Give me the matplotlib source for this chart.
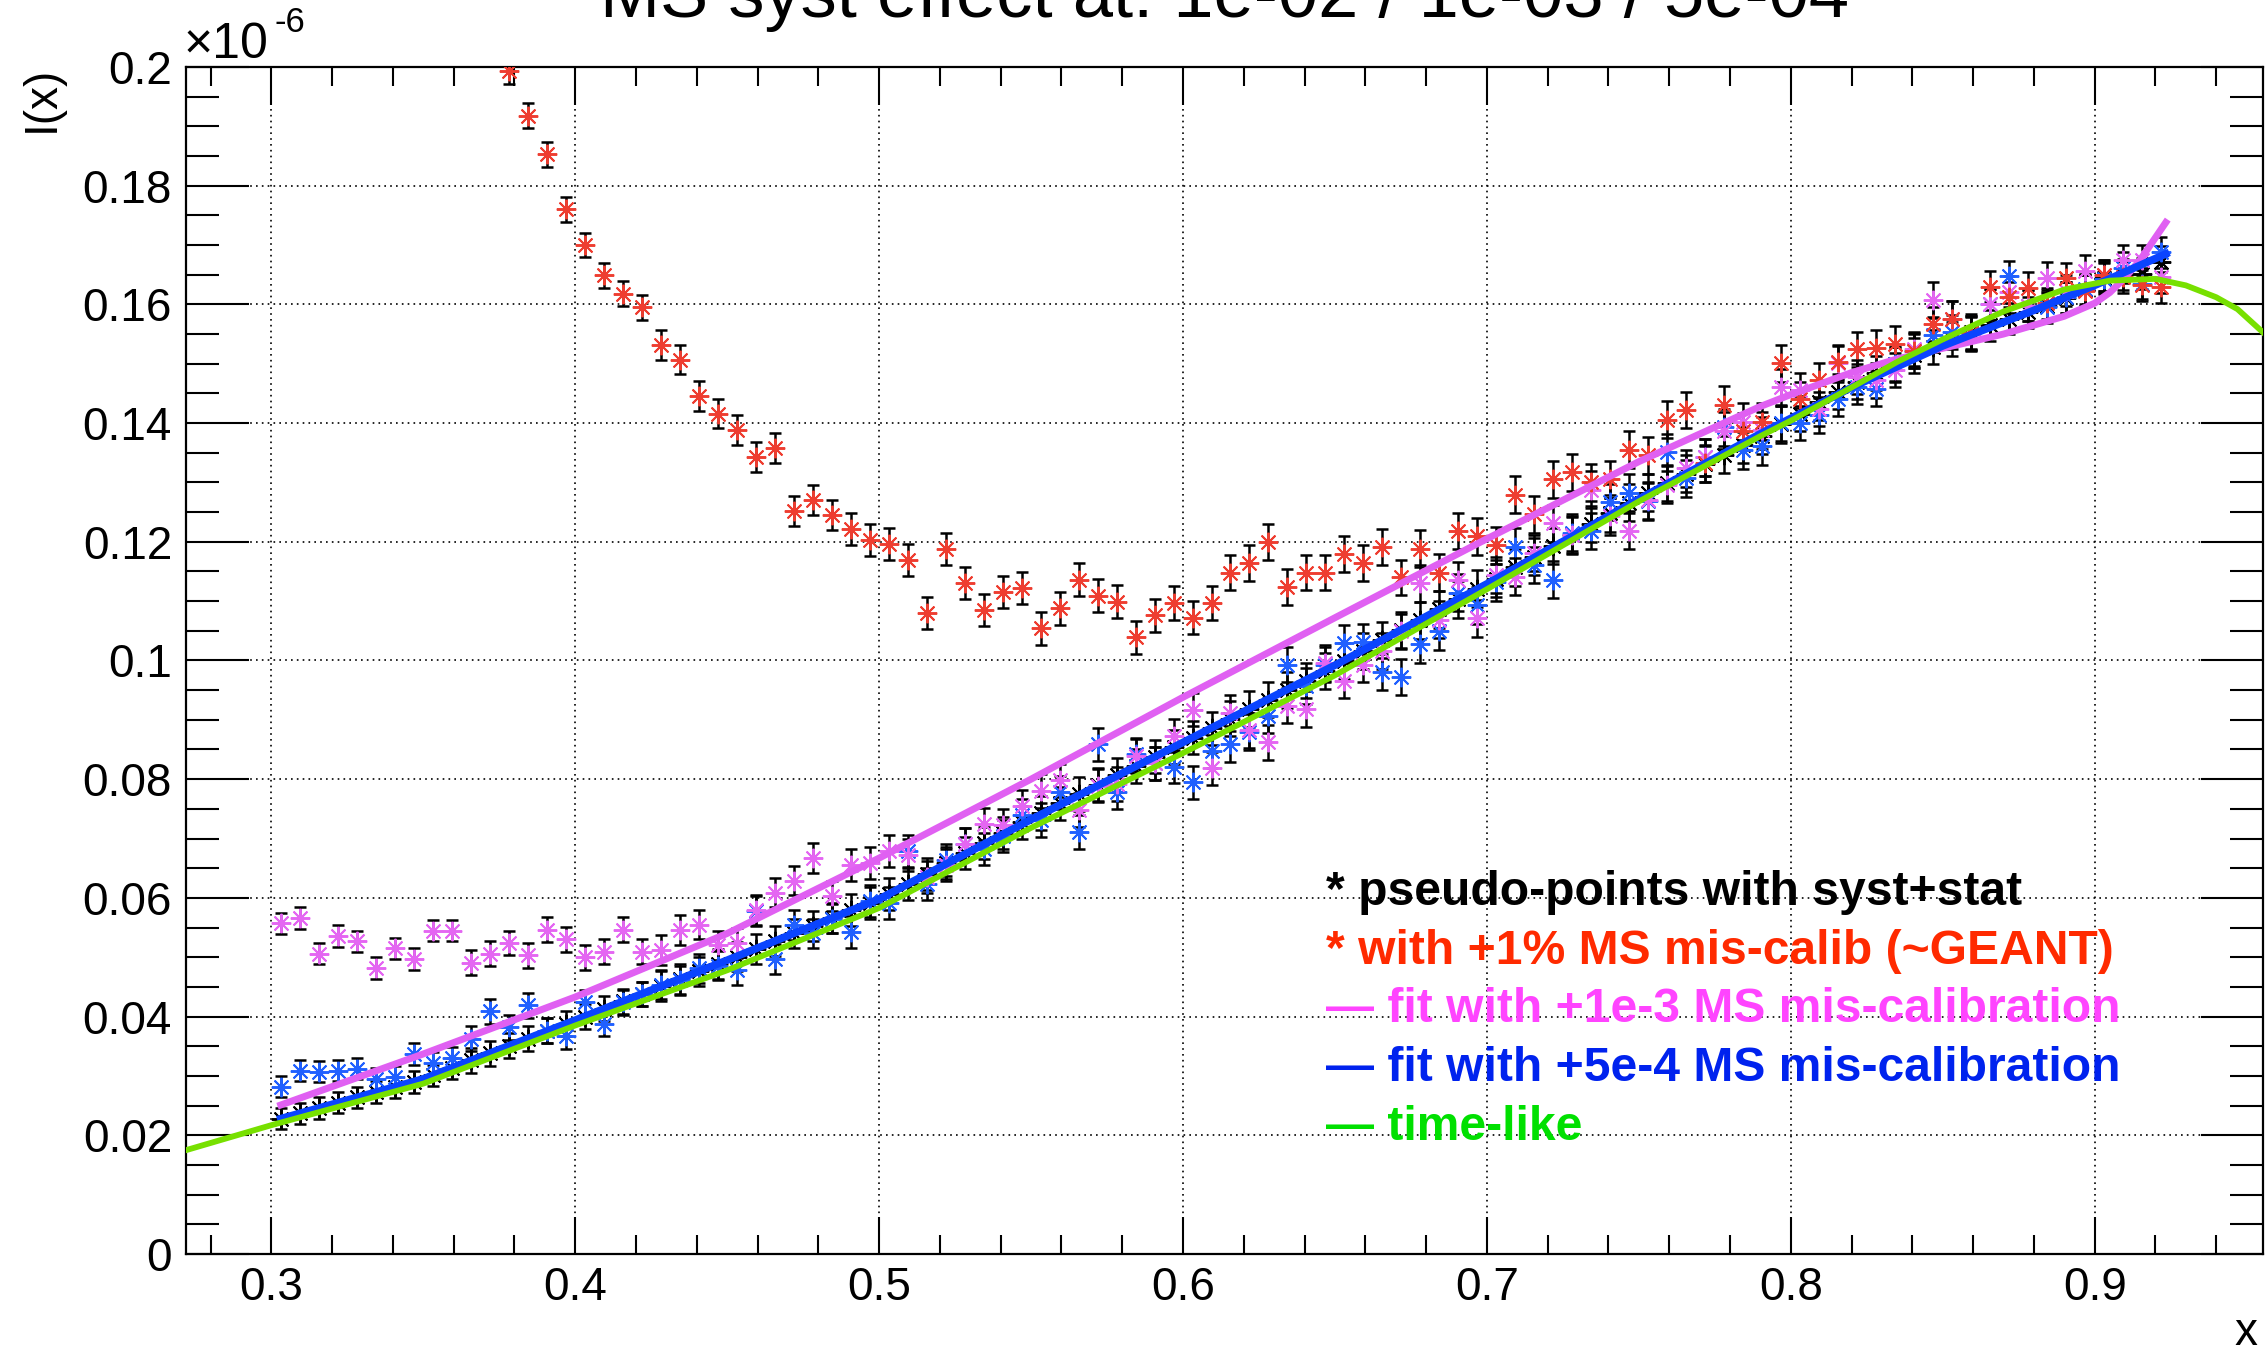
import numpy as np
import matplotlib
matplotlib.use("Agg")
import matplotlib.pyplot as plt
from matplotlib.ticker import MultipleLocator, FuncFormatter

plt.rcParams['font.family'] = ['Liberation Sans', 'DejaVu Sans']

# bin centres of the 100 pseudo-points (0.3 .. 0.925)
x = np.linspace(0.303125, 0.921875, 100)

# error bar half-height, one value per group of 10 points
err_groups = [0.0018, 0.0021, 0.0025, 0.0027, 0.0028, 0.0030, 0.0031, 0.0031, 0.0029, 0.0026]
err = np.repeat(err_groups, 10)

# pseudo-points with syst+stat (mostly hidden under the fit lines)
y_black = [0.0228, 0.0237, 0.0246, 0.0255, 0.0264, 0.0273, 0.0281, 0.0290, 0.0301, 0.0313,
           0.0326, 0.0338, 0.0351, 0.0363, 0.0376, 0.0388, 0.0400, 0.0413, 0.0426, 0.0438,
           0.0451, 0.0463, 0.0476, 0.0489, 0.0501, 0.0514, 0.0527, 0.0540, 0.0553, 0.0566,
           0.0579, 0.0592, 0.0607, 0.0624, 0.0641, 0.0658, 0.0675, 0.0692, 0.0710, 0.0727,
           0.0743, 0.0759, 0.0775, 0.0791, 0.0807, 0.0822, 0.0838, 0.0854, 0.0870, 0.0886,
           0.0902, 0.0918, 0.0934, 0.0950, 0.0966, 0.0982, 0.0999, 0.1016, 0.1034, 0.1051,
           0.1068, 0.1086, 0.1103, 0.1121, 0.1138, 0.1157, 0.1175, 0.1193, 0.1212, 0.1230,
           0.1248, 0.1266, 0.1283, 0.1299, 0.1315, 0.1331, 0.1347, 0.1363, 0.1379, 0.1398,
           0.1416, 0.1435, 0.1453, 0.1470, 0.1484, 0.1499, 0.1514, 0.1528, 0.1542, 0.1554,
           0.1565, 0.1576, 0.1587, 0.1598, 0.1611, 0.1624, 0.1645, 0.1650, 0.1652, 0.1672]

# +1% MS mis-calib (first 12 points are above the frame)
red_start = 12
y_red = [0.1993, 0.1918, 0.1853, 0.1760, 0.1700, 0.1649, 0.1618, 0.1595,
         0.1531, 0.1507, 0.1446, 0.1416, 0.1388, 0.1343, 0.1358, 0.1252, 0.1270, 0.1245,
         0.1221, 0.1203, 0.1197, 0.1170, 0.1080, 0.1188, 0.1130, 0.1085, 0.1115, 0.1122,
         0.1054, 0.1088, 0.1136, 0.1109, 0.1099, 0.1039, 0.1076, 0.1097, 0.1072, 0.1097,
         0.1148, 0.1164, 0.1200, 0.1124, 0.1148, 0.1148, 0.1179, 0.1164, 0.1191, 0.1140,
         0.1188, 0.1148, 0.1218, 0.1209, 0.1194, 0.1279, 0.1246, 0.1305, 0.1317, 0.1300,
         0.1305, 0.1355, 0.1346, 0.1406, 0.1422, 0.1332, 0.1431, 0.1386, 0.1402, 0.1501,
         0.1441, 0.1473, 0.1503, 0.1524, 0.1527, 0.1534, 0.1521, 0.1567, 0.1576, 0.1552,
         0.1630, 0.1612, 0.1628, 0.1602, 0.1644, 0.1623, 0.1649, 0.1646, 0.1632, 0.1629]

# points with +1e-3 mis-calibration
y_mag = [0.0557, 0.0566, 0.0506, 0.0536, 0.0527, 0.0482, 0.0515, 0.0497, 0.0545, 0.0545,
         0.0491, 0.0506, 0.0524, 0.0503, 0.0546, 0.0530, 0.0500, 0.0509, 0.0546, 0.0509,
         0.0512, 0.0546, 0.0555, 0.0520, 0.0524, 0.0579, 0.0609, 0.0629, 0.0667, 0.0603,
         0.0656, 0.0659, 0.0679, 0.0673, 0.0635, 0.0656, 0.0690, 0.0725, 0.0722, 0.0754,
         0.0780, 0.0798, 0.0748, 0.0789, 0.0792, 0.0839, 0.0827, 0.0873, 0.0917, 0.0818,
         0.0911, 0.0882, 0.0862, 0.0924, 0.0918, 0.0996, 0.0966, 0.0993, 0.1016, 0.1049,
         0.1130, 0.1069, 0.1135, 0.1071, 0.1144, 0.1141, 0.1181, 0.1231, 0.1211, 0.1288,
         0.1243, 0.1218, 0.1270, 0.1296, 0.1324, 0.1342, 0.1387, 0.1402, 0.1388, 0.1460,
         0.1455, 0.1424, 0.1501, 0.1478, 0.1472, 0.1489, 0.1525, 0.1608, 0.1576, 0.1550,
         0.1600, 0.1621, 0.1598, 0.1645, 0.1623, 0.1657, 0.1649, 0.1674, 0.1674, 0.1646]

# points with +5e-4 mis-calibration
y_blue = [0.0282, 0.0309, 0.0307, 0.0309, 0.0312, 0.0295, 0.0299, 0.0337, 0.0322, 0.0331,
          0.0363, 0.0409, 0.0382, 0.0419, 0.0376, 0.0367, 0.0424, 0.0388, 0.0424, 0.0438,
          0.0454, 0.0461, 0.0481, 0.0486, 0.0478, 0.0578, 0.0497, 0.0554, 0.0540, 0.0565,
          0.0542, 0.0595, 0.0592, 0.0679, 0.0624, 0.0664, 0.0690, 0.0682, 0.0705, 0.0740,
          0.0731, 0.0778, 0.0711, 0.0859, 0.0778, 0.0842, 0.0827, 0.0821, 0.0795, 0.0847,
          0.0859, 0.0879, 0.0907, 0.0993, 0.0957, 0.0993, 0.1029, 0.1031, 0.0981, 0.0972,
          0.1027, 0.1049, 0.1114, 0.1093, 0.1132, 0.1192, 0.1161, 0.1136, 0.1215, 0.1218,
          0.1267, 0.1283, 0.1268, 0.1351, 0.1307, 0.1342, 0.1393, 0.1354, 0.1361, 0.1400,
          0.1400, 0.1413, 0.1441, 0.1461, 0.1458, 0.1500, 0.1522, 0.1548, 0.1553, 0.1552,
          0.1600, 0.1647, 0.1598, 0.1595, 0.1612, 0.1626, 0.1643, 0.1662, 0.1635, 0.1688]

# fit curves, read at a few x values
fit_mag_x = [0.3031, 0.35, 0.40, 0.45, 0.50, 0.55, 0.60, 0.65, 0.70, 0.75, 0.79, 0.80,
             0.82, 0.835, 0.85, 0.87, 0.89, 0.90, 0.905, 0.91, 0.915, 0.9234]
fit_mag_y = [0.0251, 0.0337, 0.0433, 0.0540, 0.0667, 0.0800, 0.0938, 0.1072, 0.1205, 0.1335,
             0.1428, 0.1448, 0.1485, 0.1508, 0.1526, 0.1550, 0.1580, 0.1602, 0.1620, 0.1645,
             0.1675, 0.1738]
fit_blue_x = [0.3031, 0.35, 0.40, 0.45, 0.50, 0.55, 0.60, 0.65, 0.70, 0.75, 0.79, 0.82,
              0.85, 0.88, 0.90, 0.9234]
fit_blue_y = [0.0228, 0.0295, 0.0394, 0.0495, 0.0598, 0.0732, 0.0862, 0.0992, 0.1129, 0.1272,
              0.1382, 0.1460, 0.1530, 0.1590, 0.1632, 0.1685]
timelike_x = [0.272, 0.30, 0.35, 0.40, 0.45, 0.50, 0.55, 0.60, 0.65, 0.70, 0.75, 0.79,
              0.80, 0.82, 0.835, 0.85, 0.87, 0.89, 0.905, 0.92, 0.93, 0.94, 0.947, 0.956]
timelike_y = [0.0175, 0.0217, 0.0287, 0.0385, 0.0478, 0.0583, 0.0718, 0.0844, 0.0975, 0.1120,
              0.1268, 0.1378, 0.1404, 0.1460, 0.1503, 0.1541, 0.1588, 0.1625, 0.1640, 0.1643,
              0.1632, 0.1612, 0.1592, 0.1550]

legend_lines = ["* pseudo-points with syst+stat",
                "* with +1% MS mis-calib (~GEANT)",
                "\u2014 fit with +1e-3 MS mis-calibration",
                "\u2014 fit with +5e-4 MS mis-calibration",
                "\u2014 time-like"]
legend_colors = ['black', '#ff2a00', '#ff44ff', '#0022ee', '#00e000']

fig = plt.figure(figsize=(22.68, 13.53), dpi=100)
ax = fig.add_axes([0.0820, 0.0732, 0.9158, 0.8773])

star = (8, 2, 0)
series = [(x, y_black, 'black'),
          (x, y_blue, '#2060ff'),
          (x, y_mag, '#e466f2'),
          (x[red_start:], y_red, '#ee3d30')]
for xs, ys, c in series:
    e = err[-len(ys):]
    ax.errorbar(xs, ys, yerr=e, fmt='none', ecolor='black', elinewidth=1.8,
                capsize=4, capthick=1.8, zorder=3)
    ax.plot(xs, ys, ls='none', marker=star, ms=14, mew=1.4, color=c, zorder=4)

ax.plot(fit_mag_x, fit_mag_y, color='#e060f2', lw=5.0, zorder=5)
ax.plot(fit_blue_x, fit_blue_y, color='#0a44ff', lw=5.5, zorder=6)
ax.plot(timelike_x, timelike_y, color='#77e000', lw=4.2, zorder=7)

ax.set_xlim(0.2719, 0.9554)
ax.set_ylim(0, 0.2)

ax.xaxis.set_major_locator(MultipleLocator(0.1))
ax.xaxis.set_minor_locator(MultipleLocator(0.02))
ax.yaxis.set_major_locator(MultipleLocator(0.02))
ax.yaxis.set_minor_locator(MultipleLocator(0.005))
fmt = FuncFormatter(lambda v, p: '%g' % round(v, 3))
ax.xaxis.set_major_formatter(fmt)
ax.yaxis.set_major_formatter(fmt)

ax.tick_params(which='both', direction='in', top=True, right=True, width=1.5, labelsize=33)
ax.tick_params(axis='x', which='major', length=27, pad=9)
ax.tick_params(axis='x', which='minor', length=14)
ax.tick_params(axis='y', which='major', length=45, pad=10)
ax.tick_params(axis='y', which='minor', length=24)
for s in ax.spines.values():
    s.set_linewidth(1.6)

ax.grid(True, which='major', color='black', linestyle=(0, (1, 2.5)), linewidth=1.2)
ax.set_axisbelow(True)

fig.text(0.540, 1 - 17 / 1353, "MS syst effect at: 1e-02 / 1e-03 / 5e-04",
         ha='center', va='baseline', fontsize=52)
fig.text(184 / 2268, 1 - 58 / 1353, '\u00d710', ha='left', va='baseline', fontsize=36)
fig.text(274 / 2268, 1 - 32 / 1353, '-6', ha='left', va='baseline', fontsize=25)
fig.text(42 / 2268, 1 - 66 / 1353, 'I(x)', rotation=90, ha='center', va='top', fontsize=33)
fig.text(2257 / 2268, 1 - 1333 / 1353, 'x', ha='right', va='center', fontsize=33)

for k, (txt, c) in enumerate(zip(legend_lines, legend_colors)):
    fig.text(1326 / 2268, 1 - (905 + 58.7 * k) / 1353, txt, color=c,
             fontsize=34.6, fontweight='bold', ha='left', va='baseline')

fig.savefig('out.png', dpi=100)
